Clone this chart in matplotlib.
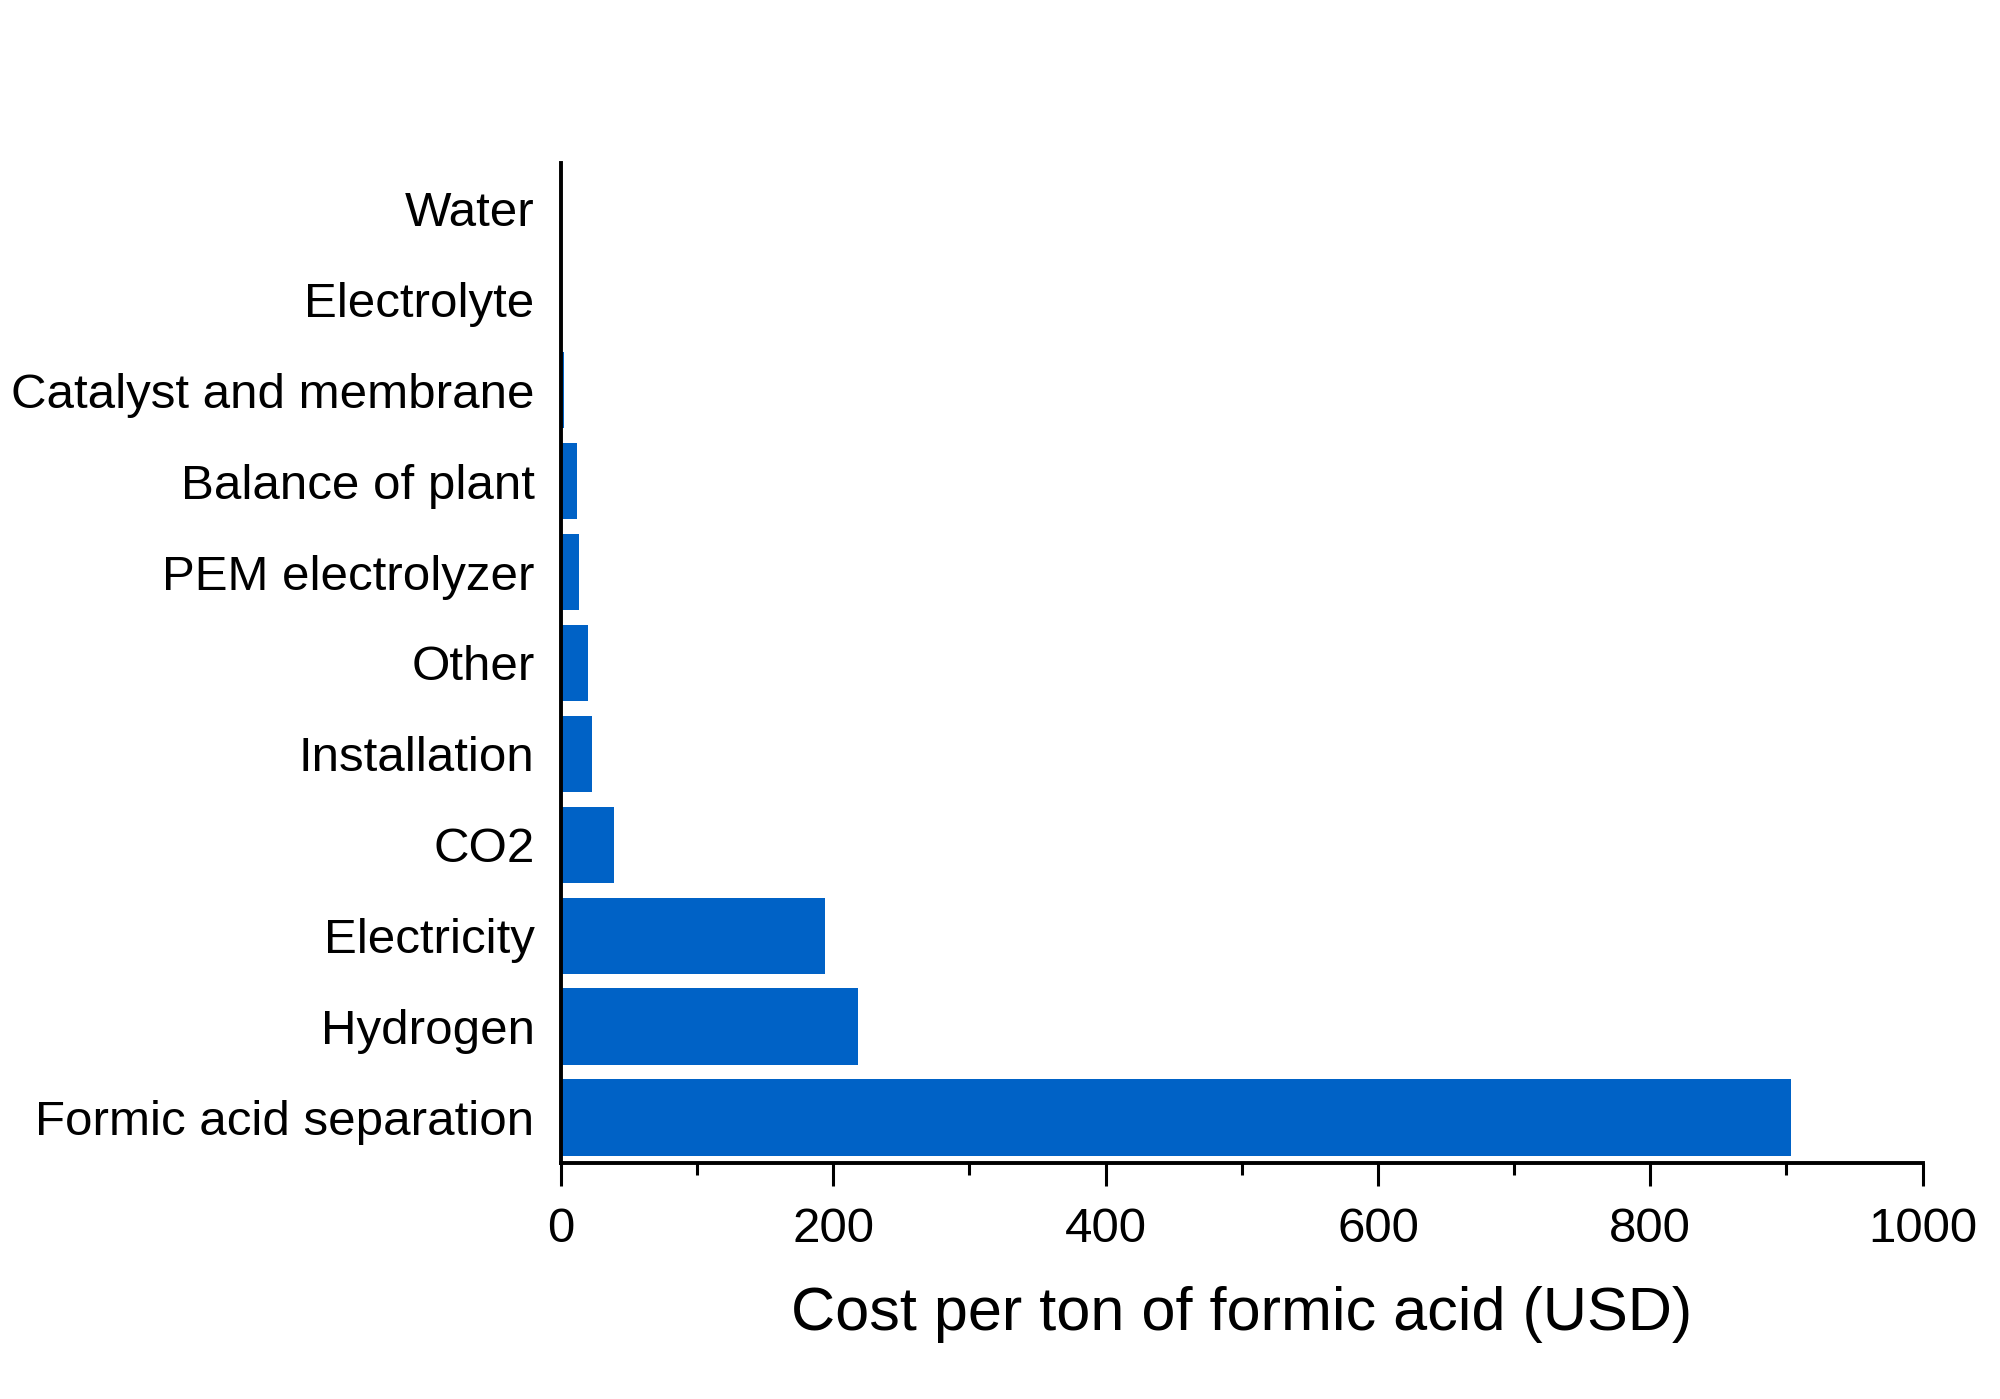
import matplotlib
matplotlib.use("Agg")
import matplotlib.pyplot as plt
from matplotlib.ticker import MultipleLocator

categories = ["Formic acid separation", "Hydrogen", "Electricity", "CO2", "Installation",
              "Other", "PEM electrolyzer", "Balance of plant", "Catalyst and membrane",
              "Electrolyte", "Water"]
costs = [903, 218, 194, 39, 23, 20, 13, 12, 2, 0.2, 0.1]

plt.rcParams['font.family'] = ['Liberation Sans', 'DejaVu Sans']

fig = plt.figure(figsize=(20, 13.99), dpi=100)
ax = fig.add_axes([0.2805, 0.1687, 0.6808, 0.7148])

ypos = list(range(len(categories)))
ax.barh(ypos, costs, height=0.84, color='#0062C6')

ax.set_xlim(0, 1000)
ax.set_ylim(-0.5, len(categories) - 0.5)
ax.set_yticks(ypos)
ax.set_yticklabels(categories)
ax.xaxis.set_major_locator(MultipleLocator(200))
ax.xaxis.set_minor_locator(MultipleLocator(100))

for s in ['top', 'right']:
    ax.spines[s].set_visible(False)
for s in ['left', 'bottom']:
    ax.spines[s].set_linewidth(2.8)

ax.tick_params(axis='y', length=0, pad=19, labelsize=35.5)
ax.tick_params(axis='x', which='major', length=16.5, width=2.2, pad=15, labelsize=35.5, direction='out')
ax.tick_params(axis='x', which='minor', length=8.5, width=2.2, direction='out')

ax.set_xlabel("Cost per ton of formic acid (USD)", fontsize=44, labelpad=25)

fig.savefig("out.png", dpi=100)
